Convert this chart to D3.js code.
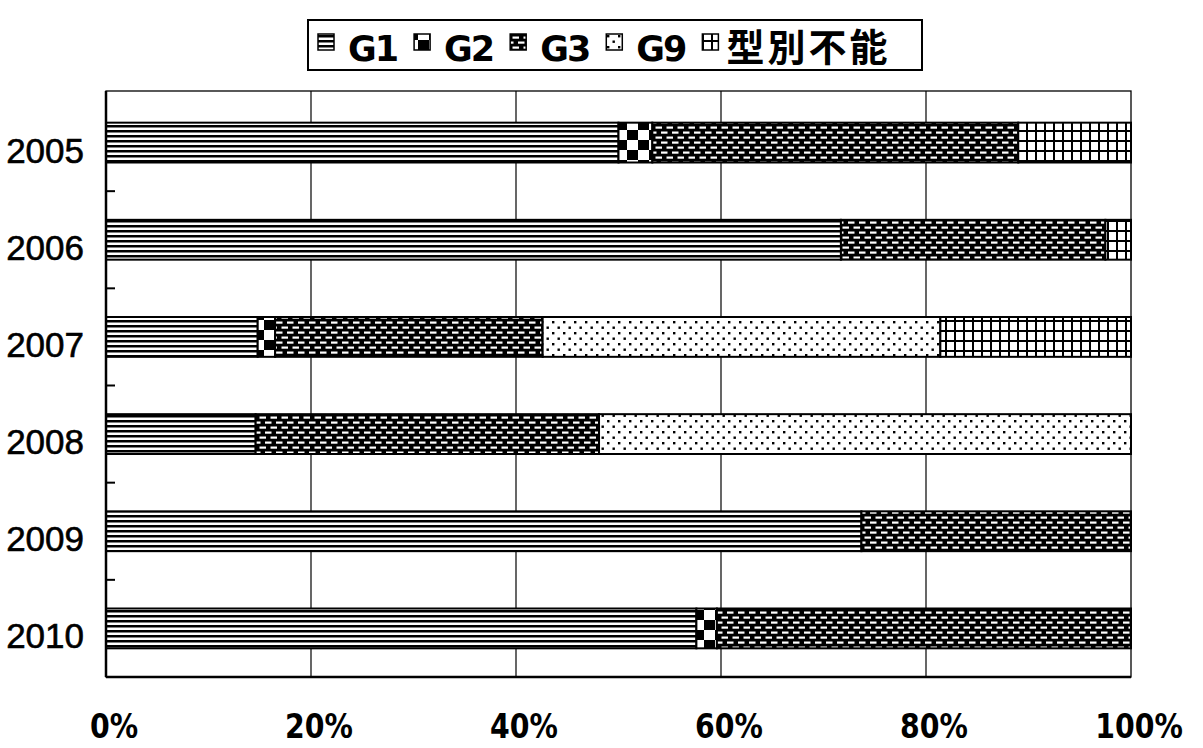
<!DOCTYPE html>
<html>
<head>
<meta charset="utf-8">
<script src="https://cdn.jsdelivr.net/npm/d3@7"></script>
<style>
  html, body { margin: 0; padding: 0; background: #fff; }
  svg { display: block; }
</style>
</head>
<body>
<svg id="chart" width="1203" height="748"></svg>
<script>
// ---- data ----
const years = ["2005", "2006", "2007", "2008", "2009", "2010"];
const seriesNames = ["G1", "G2", "G3", "G9", "型別不能"];
const G1   = [50.0, 71.7, 14.8, 14.6, 73.7, 57.6];
const G2   = [3.3, 0.0, 1.7, 0.0, 0.0, 2.0];
const G3   = [35.7, 25.8, 26.1, 33.5, 26.3, 40.4];
const G9   = [0.0, 0.0, 38.8, 51.9, 0.0, 0.0];
const TYPE_NA = [11.0, 2.5, 18.6, 0.0, 0.0, 0.0];
const xTicks = [0, 0.2, 0.4, 0.6, 0.8, 1.0];
const xTickLabels = ["0%", "20%", "40%", "60%", "80%", "100%"];

const seriesValues = [G1, G2, G3, G9, TYPE_NA];

// ---- layout ----
const svg = d3.select("#chart");
const plot = { left: 106, right: 1131, top: 91, bottom: 677 };

// ---- patterns ----
const defs = svg.append("defs");
function pat(id, w, h, build) {
  const p = defs.append("pattern").attr("id", id)
    .attr("patternUnits", "userSpaceOnUse").attr("width", w).attr("height", h);
  build(p);
}
pat("pG1", 10, 5, p => {
  p.append("rect").attr("width", 10).attr("height", 5).attr("fill", "#fff");
  p.append("rect").attr("y", 0).attr("width", 10).attr("height", 2.5).attr("fill", "#000");
});
pat("pG2", 22, 20, p => {
  p.append("rect").attr("width", 22).attr("height", 20).attr("fill", "#fff");
  p.append("rect").attr("x", 0).attr("y", 0).attr("width", 11).attr("height", 10).attr("fill", "#000");
  p.append("rect").attr("x", 11).attr("y", 10).attr("width", 11).attr("height", 10).attr("fill", "#000");
});
pat("pG3", 11, 10, p => {
  p.append("rect").attr("width", 11).attr("height", 10).attr("fill", "#000");
  p.append("rect").attr("x", 1).attr("y", 1.5).attr("width", 6.5).attr("height", 2.2).attr("fill", "#fff");
  p.append("rect").attr("x", 6.5).attr("y", 6.5).attr("width", 6.5).attr("height", 2.2).attr("fill", "#fff");
  p.append("rect").attr("x", -4.5).attr("y", 6.5).attr("width", 6.5).attr("height", 2.2).attr("fill", "#fff");
});
pat("pG9", 11, 11, p => {
  p.append("rect").attr("width", 11).attr("height", 11).attr("fill", "#fff");
  p.append("rect").attr("x", 2).attr("y", 2).attr("width", 2.4).attr("height", 2.4).attr("fill", "#000");
  p.append("rect").attr("x", 7.5).attr("y", 7.5).attr("width", 2.4).attr("height", 2.4).attr("fill", "#000");
});
pat("pNA", 9, 10, p => {
  p.append("rect").attr("width", 9).attr("height", 10).attr("fill", "#fff");
  p.append("rect").attr("x", 0).attr("y", 0).attr("width", 2).attr("height", 10).attr("fill", "#000");
  p.append("rect").attr("x", 0).attr("y", 0).attr("width", 9).attr("height", 2).attr("fill", "#000");
});
const patIds = ["pG1", "pG2", "pG3", "pG9", "pNA"];

// ---- scales ----
const x = d3.scaleLinear().domain([0, 1]).range([plot.left, plot.right]);
const y = d3.scaleBand().domain(years).range([plot.top + 3, plot.bottom])
  .paddingInner(0.59).paddingOuter(0.295);

// frame
svg.append("rect").attr("x", plot.left).attr("y", plot.top)
  .attr("width", plot.right - plot.left).attr("height", plot.bottom - plot.top)
  .attr("fill", "#fff").attr("stroke", "#000").attr("stroke-width", 1.3);

// vertical gridlines
svg.append("g").selectAll("line").data(xTicks.slice(1, -1)).join("line")
  .attr("x1", d => x(d)).attr("x2", d => x(d))
  .attr("y1", plot.top).attr("y2", plot.bottom)
  .attr("stroke", "#000").attr("stroke-width", 1.2);

// stacked bars
const table = years.map((yr, i) => {
  const o = { year: yr };
  seriesNames.forEach((s, k) => o[s] = seriesValues[k][i] / 100);
  return o;
});
const stack = d3.stack().keys(seriesNames)(table);
const gBars = svg.append("g");
stack.forEach((layer, k) => {
  gBars.append("g").selectAll("rect")
    .data(layer.filter(d => d[1] - d[0] > 0)).join("rect")
    .attr("x", d => x(d[0]))
    .attr("y", d => y(d.data.year))
    .attr("width", d => x(d[1]) - x(d[0]))
    .attr("height", y.bandwidth())
    .attr("fill", `url(#${patIds[k]})`)
    .attr("stroke", "#000").attr("stroke-width", 2);
});

// axis lines + inward ticks at category boundaries
svg.append("line").attr("x1", plot.left).attr("x2", plot.left)
  .attr("y1", plot.top).attr("y2", plot.bottom).attr("stroke", "#000").attr("stroke-width", 2.5);
svg.append("line").attr("x1", plot.left).attr("x2", plot.right)
  .attr("y1", plot.bottom).attr("y2", plot.bottom).attr("stroke", "#000").attr("stroke-width", 2.5);
svg.append("g").selectAll("line").data(years.slice(1)).join("line")
  .attr("x1", plot.left).attr("x2", plot.left + 9)
  .attr("y1", d => y(d) - y.step() * y.paddingInner() / 2)
  .attr("y2", d => y(d) - y.step() * y.paddingInner() / 2)
  .attr("stroke", "#000").attr("stroke-width", 2);

// y labels
svg.append("g").selectAll("text").data(years).join("text")
  .attr("x", 84)
  .attr("y", d => y(d) + y.bandwidth() / 2 + 20)
  .attr("text-anchor", "end")
  .attr("font-family", "'Liberation Sans', Arial, sans-serif")
  .attr("font-size", 35)
  .attr("stroke", "#000").attr("stroke-width", 0.6)
  .attr("fill", "#000")
  .text(d => d);

// x labels (condensed via horizontal scale)
svg.append("g").selectAll("text").data(xTicks).join("text")
  .attr("transform", d => `translate(${x(d) + 8},738) scale(0.86,1)`)
  .attr("text-anchor", "middle")
  .attr("font-family", "'DejaVu Sans', sans-serif")
  .attr("font-weight", "bold")
  .attr("font-size", 33)
  .attr("fill", "#000")
  .text((d, i) => xTickLabels[i]);

// legend
const legend = svg.append("g");
legend.append("rect").attr("x", 308).attr("y", 20).attr("width", 614).attr("height", 50)
  .attr("fill", "#fff").attr("stroke", "#000").attr("stroke-width", 2);
let cx = 318;
seriesNames.forEach((s, k) => {
  legend.append("rect").attr("x", cx).attr("y", 34).attr("width", 16).attr("height", 16)
    .attr("fill", `url(#${patIds[k]})`).attr("stroke", "#000").attr("stroke-width", 1.5);
  const isCJK = k === 4;
  const off = isCJK ? 24 : 30;
  const t = legend.append("text").attr("x", cx + off).attr("y", 61)
    .attr("font-family", isCJK ? "'Noto Sans CJK JP', sans-serif" : "'DejaVu Sans', sans-serif")
    .attr("font-weight", "bold")
    .attr("font-size", isCJK ? 38 : 35)
    .attr("letter-spacing", isCJK ? 3 : -2)
    .attr("fill", "#000")
    .text(s);
  cx = cx + off + t.node().getComputedTextLength() + 17;
});
</script>
</body>
</html>
